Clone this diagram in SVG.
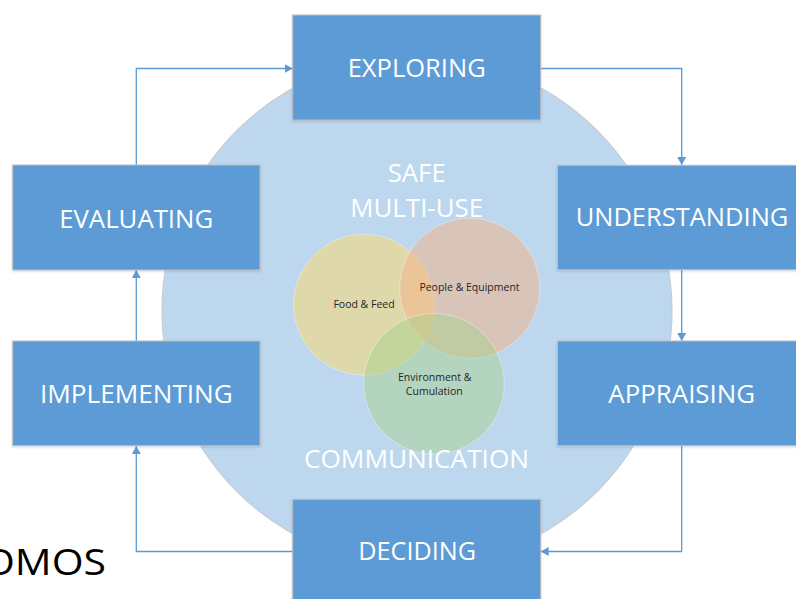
<svg xmlns="http://www.w3.org/2000/svg" width="796" height="599" viewBox="0 0 796 599">
<defs>
<style>
.box{fill:#5B9BD5;stroke:#BFBFBF;stroke-width:1}
.lbl{font-family:"Open Sans","Liberation Sans",sans-serif;font-size:26px;fill:#FFFFFF;text-anchor:middle}
.big{font-family:"Open Sans","Liberation Sans",sans-serif;font-size:25px;fill:#FFFFFF;text-anchor:middle}
.sm{font-family:"Open Sans","Liberation Sans",sans-serif;font-size:10.5px;fill:#262626;text-anchor:middle}
.con{fill:none;stroke:#5B9BD5;stroke-width:1.3}
</style>
<marker id="arr" markerWidth="9" markerHeight="9" refX="8" refY="4.5" orient="auto" markerUnits="userSpaceOnUse">
<path d="M0,0 L8,4.5 L0,9 Z" fill="#5B9BD5"/>
</marker>
<filter id="sh" x="-10%" y="-10%" width="120%" height="120%">
<feDropShadow dx="0" dy="1" stdDeviation="1.2" flood-color="#000000" flood-opacity="0.18"/>
</filter>
</defs>
<rect width="796" height="599" fill="#FFFFFF"/>

<g id="background-circle">
<circle cx="417" cy="311" r="255" fill="#BDD7EE" stroke="#C9CCD0" stroke-width="1.2"/>
</g>

<g id="venn">
<g id="food-feed">
<circle cx="364" cy="304.7" r="70.5" fill="#FFD966" fill-opacity="0.5" stroke="#FFFFFF" stroke-opacity="0.35" stroke-width="1"/>
</g>
<g id="people-equipment">
<circle cx="469.7" cy="288.3" r="70" fill="#F4B183" fill-opacity="0.5" stroke="#FFFFFF" stroke-opacity="0.35" stroke-width="1"/>
</g>
<g id="environment-cumulation">
<circle cx="434" cy="383.7" r="70.3" fill="#A9D18E" fill-opacity="0.5" stroke="#FFFFFF" stroke-opacity="0.35" stroke-width="1"/>
</g>
<text class="sm" x="364" y="308.3">Food &amp; Feed</text>
<text class="sm" x="469.5" y="291">People &amp; Equipment</text>
<text class="sm" x="434.7" y="380.7">Environment &amp;</text>
<text class="sm" x="434.3" y="395">Cumulation</text>
</g>

<g id="center-labels">
<text class="big" x="416.7" y="181.7" textLength="58" lengthAdjust="spacingAndGlyphs">SAFE</text>
<text class="big" x="416.7" y="216.7" textLength="133" lengthAdjust="spacingAndGlyphs">MULTI-USE</text>
<text class="big" x="416.5" y="467.5" textLength="225" lengthAdjust="spacingAndGlyphs">COMMUNICATION</text>
</g>

<g id="connectors">
<polyline class="con" points="540.7,68.5 681.7,68.5 681.7,165" marker-end="url(#arr)"/>
<polyline class="con" points="681.7,270 681.7,341" marker-end="url(#arr)"/>
<polyline class="con" points="681.7,446 681.7,551.5 540.7,551.5" marker-end="url(#arr)"/>
<polyline class="con" points="292.7,551.5 136.3,551.5 136.3,446" marker-end="url(#arr)"/>
<polyline class="con" points="136.3,341 136.3,270" marker-end="url(#arr)"/>
<polyline class="con" points="136.3,165 136.3,68.5 292.7,68.5" marker-end="url(#arr)"/>
</g>

<g id="exploring">
<rect class="box" x="292.7" y="15" width="248" height="105" filter="url(#sh)"/>
<text class="lbl" x="416.7" y="77" textLength="138" lengthAdjust="spacingAndGlyphs">EXPLORING</text>
</g>
<g id="understanding">
<rect class="box" x="557.5" y="165.3" width="248" height="104.5" filter="url(#sh)"/>
<text class="lbl" x="682" y="226" textLength="212.7" lengthAdjust="spacingAndGlyphs">UNDERSTANDING</text>
</g>
<g id="appraising">
<rect class="box" x="557.5" y="341" width="248" height="104.7" filter="url(#sh)"/>
<text class="lbl" x="681.7" y="403.3" textLength="146.7" lengthAdjust="spacingAndGlyphs">APPRAISING</text>
</g>
<g id="deciding">
<rect class="box" x="292.7" y="499.3" width="248" height="105" filter="url(#sh)"/>
<text class="lbl" x="417.2" y="560" textLength="117.7" lengthAdjust="spacingAndGlyphs">DECIDING</text>
</g>
<g id="implementing">
<rect class="box" x="12.7" y="341" width="247.3" height="104.7" filter="url(#sh)"/>
<text class="lbl" x="136.4" y="403.3" textLength="192.7" lengthAdjust="spacingAndGlyphs">IMPLEMENTING</text>
</g>
<g id="evaluating">
<rect class="box" x="12.7" y="165" width="247.3" height="105" filter="url(#sh)"/>
<text class="lbl" x="136.2" y="227.7" textLength="154" lengthAdjust="spacingAndGlyphs">EVALUATING</text>
</g>

<g id="corner-text">
<text x="-17" y="575" font-family="'Open Sans','Liberation Sans',sans-serif" font-size="36" fill="#000000" textLength="123" lengthAdjust="spacingAndGlyphs">OMOS</text>
</g>
</svg>
